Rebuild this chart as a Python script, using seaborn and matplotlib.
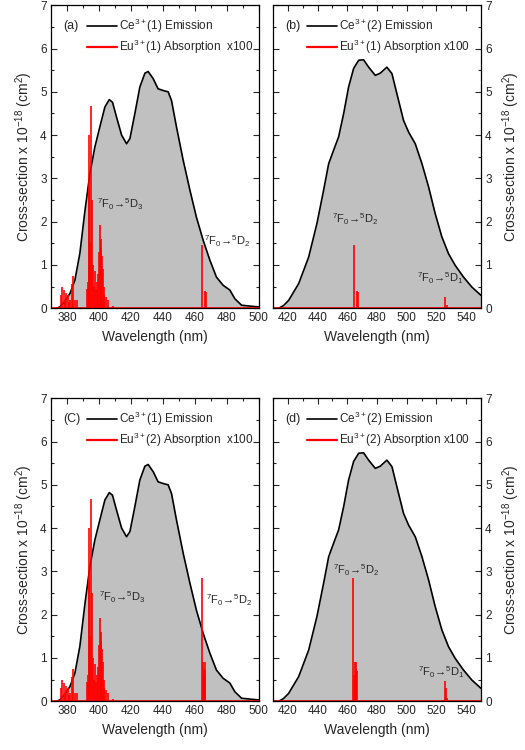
import numpy as np
import matplotlib
matplotlib.use("Agg")
import matplotlib.pyplot as plt
from matplotlib.ticker import MultipleLocator
from matplotlib.lines import Line2D
import seaborn as sns

sns.set_theme(style="ticks")
plt.rcParams['font.family'] = ['Liberation Sans', 'DejaVu Sans']
plt.rcParams['mathtext.fontset'] = 'custom'
plt.rcParams['mathtext.rm'] = 'Liberation Sans'
plt.rcParams['mathtext.it'] = 'Liberation Sans'

# Ce3+(1) emission cross-section (x1e-18 cm2)
ce1_wl = [373.5, 375.6, 378.5, 381.9, 385, 388.1, 391.3, 394.4, 397.5, 400.6, 403.75,
          406.5, 408.5, 411, 414.2, 417.3, 419.4, 422.5, 425.6, 428.75, 430.8, 434,
          437, 440.2, 443.3, 445.4, 448.5, 452.7, 456.9, 461, 465.2, 469.4, 473.5,
          477.7, 481.9, 485, 489.2, 494.4, 500]
ce1_cs = [0.0, 0.03, 0.15, 0.34, 0.65, 1.27, 2.26, 3.12, 3.73, 4.19, 4.65,
          4.82, 4.76, 4.42, 4.0, 3.80, 3.92, 4.5, 5.11, 5.43, 5.47, 5.3,
          5.07, 5.03, 5.0, 4.8, 4.19, 3.42, 2.73, 2.1, 1.57, 1.11, 0.72,
          0.53, 0.42, 0.22, 0.07, 0.05, 0.03]

# Ce3+(2) emission cross-section
ce2_wl = [410, 413.8, 417, 420.5, 427.3, 434, 439.6, 444.1, 447.5, 450.8, 454.2, 457.6,
          460.9, 464.3, 467.7, 471, 474.4, 478.9, 482.2, 486.7, 490.1, 493.4, 497.9,
          501.3, 505.8, 510.3, 514.8, 519.2, 523.7, 528.2, 532.7, 538.3, 543.9, 550]
ce2_cs = [0.0, 0.0, 0.06, 0.18, 0.57, 1.18, 1.96, 2.73, 3.34, 3.65, 3.96, 4.5,
          5.11, 5.54, 5.73, 5.74, 5.57, 5.38, 5.43, 5.57, 5.42, 4.96, 4.34,
          4.07, 3.8, 3.34, 2.8, 2.19, 1.65, 1.26, 0.99, 0.72, 0.49, 0.3]

# Eu3+ absorption lines (x100), UV region (same for both sites)
eu_uv_wl = [376.5, 377, 378, 379, 379.5, 380.5, 381, 382, 383, 384, 385, 386,
            392.5, 393, 393.5, 394, 394.5, 395, 395.5, 396, 397, 397.5, 398, 398.5,
            399.5, 400, 400.5, 401, 401.5, 402, 402.5, 403, 403.5, 404.5, 405.5, 409]
eu_uv_h = [0.3, 0.5, 0.42, 0.2, 0.35, 0.3, 0.15, 0.2, 0.55, 0.75, 0.2, 0.2,
           0.45, 0.6, 4.0, 2.8, 1.5, 4.67, 2.5, 1.0, 0.5, 0.85, 0.45, 0.6,
           0.8, 1.3, 1.93, 1.6, 1.4, 1.2, 0.9, 0.5, 0.3, 0.25, 0.2, 0.05]

# 7F0->5D2 and 7F0->5D1 lines
eu1_vis_wl = [464.3, 466.5, 467.0, 526.0, 527.0]
eu1_vis_h = [1.47, 0.4, 0.38, 0.25, 0.08]
eu2_vis_wl = [464.2, 464.8, 465.3, 465.7, 466.2, 466.6, 525.8, 526.2, 527.0]
eu2_vis_h = [2.85, 0.6, 0.9, 0.75, 0.9, 0.7, 0.47, 0.3, 0.08]

panels = [
    dict(tag="(a)", ce="Ce$^{3+}$(1) Emission", eu="Eu$^{3+}$(1) Absorption  x100",
         wl=ce1_wl, cs=ce1_cs, lw=eu_uv_wl + eu1_vis_wl, lh=eu_uv_h + eu1_vis_h,
         xlim=(370, 500), side="left", pos=[0.097, 0.589, 0.396, 0.404],
         labels=[(398.5, 2.4, "3"), (465.6, 1.55, "2")]),
    dict(tag="(b)", ce="Ce$^{3+}$(2) Emission", eu="Eu$^{3+}$(1) Absorption x100",
         wl=ce2_wl, cs=ce2_cs, lw=eu1_vis_wl, lh=eu1_vis_h,
         xlim=(410, 550), side="right", pos=[0.52, 0.589, 0.396, 0.404],
         labels=[(449.5, 2.05, "2"), (506.7, 0.7, "1")]),
    dict(tag="(C)", ce="Ce$^{3+}$(1) Emission", eu="Eu$^{3+}$(2) Absorption  x100",
         wl=ce1_wl, cs=ce1_cs, lw=eu_uv_wl + eu2_vis_wl, lh=eu_uv_h + eu2_vis_h,
         xlim=(370, 500), side="left", pos=[0.097, 0.065, 0.396, 0.404],
         labels=[(400, 2.4, "3"), (467, 2.33, "2")]),
    dict(tag="(d)", ce="Ce$^{3+}$(2) Emission", eu="Eu$^{3+}$(2) Absorption x100",
         wl=ce2_wl, cs=ce2_cs, lw=eu2_vis_wl, lh=eu2_vis_h,
         xlim=(410, 550), side="right", pos=[0.52, 0.065, 0.396, 0.404],
         labels=[(450.6, 3.03, "2"), (507.8, 0.68, "1")]),
]

fig = plt.figure(figsize=(5.25, 7.5), dpi=100)
fs = 8.5
ylab = "Cross-section x 10$^{-18}$ (cm$^{2}$)"

for p in panels:
    ax = fig.add_axes(p["pos"])
    ax.fill_between(p["wl"], p["cs"], 0, color="#c0c0c0", lw=0)
    sns.lineplot(x=p["wl"], y=p["cs"], color="black", lw=1.2, ax=ax)
    ax.plot(p["xlim"], [0, 0], color="red", lw=1.2)
    ax.vlines(p["lw"], 0, p["lh"], color="red", lw=1.2)
    for x, y, d in p["labels"]:
        ax.text(x, y, "$^{7}$F$_{0}$→$^{5}$D$_{%s}$" % d,
                fontsize=8, va="center", ha="left")
    ax.set_xlim(*p["xlim"])
    ax.set_ylim(0, 7)
    ax.xaxis.set_major_locator(MultipleLocator(20))
    ax.xaxis.set_minor_locator(MultipleLocator(10))
    ax.yaxis.set_major_locator(MultipleLocator(1))
    ax.yaxis.set_minor_locator(MultipleLocator(0.5))
    ax.tick_params(which="both", direction="in", top=True, right=True, left=True,
                   bottom=True, labelsize=fs, pad=3)
    ax.tick_params(which="major", length=4, width=0.8)
    ax.tick_params(which="minor", length=2, width=0.8)
    if p["side"] == "right":
        ax.tick_params(labelleft=False, labelright=True)
        ax.yaxis.set_label_position("right")
        ax.set_ylabel(ylab, fontsize=10, rotation=90, labelpad=6)
        anchor = (0.13, 0.985)
    else:
        ax.set_ylabel(ylab, fontsize=10, labelpad=4)
        anchor = (0.14, 0.985)
    ax.set_xlabel("Wavelength (nm)", fontsize=10, labelpad=4)
    for s in ax.spines.values():
        s.set_linewidth(0.9)
        s.set_color("black")
    ax.text(0.06, 0.93, p["tag"], transform=ax.transAxes, fontsize=fs + 0.5, va="center")
    handles = [Line2D([], [], color="black", lw=1.2), Line2D([], [], color="red", lw=1.6)]
    ax.legend(handles, [p["ce"], p["eu"]], loc="upper left", bbox_to_anchor=anchor,
              frameon=False, fontsize=fs, handlelength=2.5, handletextpad=0.2,
              labelspacing=0.25, borderaxespad=0.2)

fig.savefig("out.png", dpi=100)
